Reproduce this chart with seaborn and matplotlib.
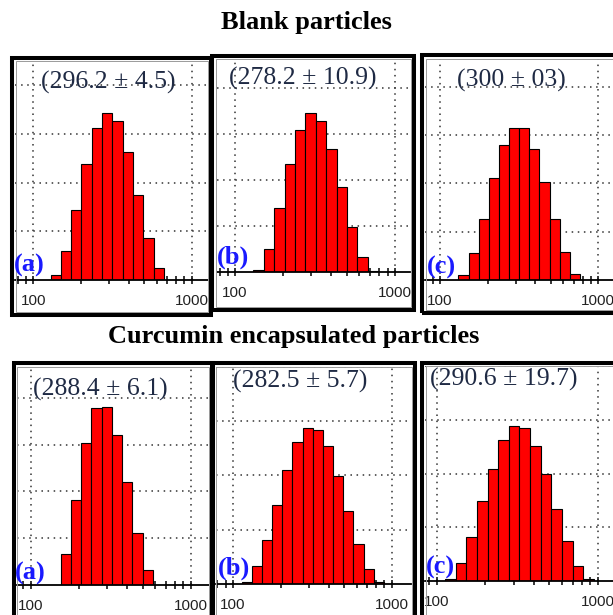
import numpy as np
import pandas as pd
import matplotlib
matplotlib.use("Agg")
import matplotlib.pyplot as plt
from matplotlib.patches import Rectangle
from matplotlib.ticker import LogLocator, NullFormatter, FixedLocator, FixedFormatter
import seaborn as sns

sns.set_style("white")
plt.rcParams["font.family"] = ["Liberation Serif", "DejaVu Serif"]

# ---------------- data ----------------
row_titles = ["Blank particles", "Curcumin encapsulated particles"]
panel_letters = ["(a)", "(b)", "(c)", "(a)", "(b)", "(c)"]
panel_stats = ["(296.2 ± 4.5)", "(278.2 ± 10.9)", "(300 ± 03)",
               "(288.4 ± 6.1)", "(282.5 ± 5.7)", "(290.6 ± 19.7)"]

# percentage per size bin (log-spaced bins)
blank_a = [0.55, 2.97, 7.17, 11.9, 15.6, 17.2, 16.3, 13.2, 8.7, 4.3, 1.24]
blank_b = [0.2, 2.5, 7.0, 11.7, 15.5, 17.3, 16.4, 13.4, 9.2, 4.9, 1.6, 0.1]
blank_c = [0.5, 2.8, 6.3, 10.6, 14.0, 15.8, 15.7, 13.6, 10.2, 6.3, 2.9, 0.6]
curc_a = [3.3, 9.1, 15.2, 18.9, 19.0, 16.0, 11.0, 5.6, 1.6]
curc_b = [0.2, 1.6, 4.0, 7.3, 10.5, 13.1, 14.4, 14.2, 12.7, 9.9, 6.7, 3.7, 1.4, 0.2]
curc_c = [0.2, 1.7, 4.1, 7.4, 10.4, 13.1, 14.4, 14.2, 12.6, 10.0, 6.7, 3.7, 1.4, 0.2]
series = [blank_a, blank_b, blank_c, curc_a, curc_b, curc_c]

# log10(size, nm) of the first bin edge and log10 bin width
bin_start = [2.109, 2.115, 2.116, 2.1875, 2.055, 2.052]
bin_step = [0.065, 0.065, 0.064, 0.064, 0.064, 0.066]

x_ticks = [100, 1000]
x_ticklabels = ["100", "1000"]
grid_levels = [5, 10, 15, 20]

# ---------------- layout (pixels) ----------------
W, H = 613, 615
# inner plot boxes: left, right, top, axis-line y
inner = [(15, 208, 62, 280), (217, 410, 60, 271.7), (425, 613, 59, 280),
         (17, 209, 367, 585), (216, 411, 367, 583.7), (425, 613, 366, 581)]
xlims = [(1.884, 3.103), (1.887, 3.094), (1.905, 3.093),
         (1.914, 3.114), (1.894, 3.121), (1.927, 3.095)]
ytops = [22.4, 23.1, 22.9, 23.3, 17.4, 17.0]
# frames: x0, x1, y0, y1 (border centre line)
frames = [(12, 211.3, 57.5, 315), (212, 414, 56, 310.3), (422, 618, 55.3, 313.3),
          (13.8, 212.5, 363, 618), (212, 415, 363, 618), (422, 618, 362.7, 618)]
stat_pos = [(108, 82), (303, 78.5), (511, 80.5), (100.8, 389), (300.5, 381), (503.5, 379.5)]
letter_pos = [(14, 277), (217, 269), (427, 279), (15, 585), (218, 580), (426, 579)]
title_pos = [(306.7, 22), (294, 336)]

fig = plt.figure(figsize=(W / 100, H / 100), dpi=100)
fig.patch.set_facecolor("white")


def fx(x):
    return x / W


def fy(y):
    return 1 - y / H


for i in range(6):
    l, r, t, b = inner[i]
    ax = fig.add_axes([fx(l), fy(b), (r - l) / W, (b - t) / H])
    heights = np.array(series[i], dtype=float)
    n = len(heights)
    edges = bin_start[i] + bin_step[i] * np.arange(n + 1)
    centers = 10 ** ((edges[:-1] + edges[1:]) / 2)
    df = pd.DataFrame({"size": centers, "pct": heights})
    sns.histplot(data=df, x="size", weights="pct", bins=[float(e) for e in edges],
                 log_scale=True, ax=ax,
                 color="#ff0000", edgecolor="black", linewidth=0.8, alpha=1,
                 stat="count", zorder=2)
    ax.set_xlim(10 ** xlims[i][0], 10 ** xlims[i][1])
    ax.set_ylim(0, ytops[i])
    ax.set_xlabel("")
    ax.set_ylabel("")
    ax.set_facecolor("white")
    for s in ["left", "right", "top"]:
        ax.spines[s].set_visible(False)
    ax.spines["bottom"].set_color("black")
    ax.spines["bottom"].set_linewidth(1.3)
    ax.spines["bottom"].set_zorder(4)
    ax.xaxis.set_major_locator(FixedLocator(x_ticks))
    ax.xaxis.set_major_formatter(FixedFormatter(x_ticklabels))
    ax.xaxis.set_minor_locator(LogLocator(base=10, subs=np.arange(2, 10)))
    ax.xaxis.set_minor_formatter(NullFormatter())
    ax.set_yticks(grid_levels)
    ax.tick_params(axis="y", which="both", length=0, labelleft=False, left=False)
    ax.tick_params(axis="x", which="both", bottom=True, top=False, direction="inout",
                   length=5.5, width=1.1, color="black")
    ax.tick_params(axis="x", which="major", pad=7.3, labelsize=11, labelcolor="#222222")
    for lab in ax.get_xticklabels():
        lab.set_fontfamily(["Liberation Sans", "DejaVu Sans"])
    ax.grid(True, which="major", axis="both", color="#333333",
            linestyle=(0, (1, 3)), linewidth=1.1)
    ax.set_axisbelow(True)

    x0, x1, y0, y1 = frames[i]
    fig.add_artist(Rectangle((fx(x0), fy(y1)), (x1 - x0) / W, (y1 - y0) / H,
                             transform=fig.transFigure, fill=False,
                             edgecolor="black", linewidth=2.9, zorder=5))
    g = 3.5
    fig.add_artist(Rectangle((fx(x0 + g), fy(y1 - g)), (x1 - x0 - 2 * g) / W,
                             (y1 - y0 - 2 * g) / H,
                             transform=fig.transFigure, fill=False,
                             edgecolor="#9a9a9a", linewidth=0.7, zorder=5))
    sx, sy = stat_pos[i]
    fig.text(fx(sx), fy(sy), panel_stats[i], ha="center", va="center",
             fontsize=18.5, color="#1f2a44", zorder=6)
    lx, ly = letter_pos[i]
    fig.text(fx(lx), fy(ly), panel_letters[i], ha="left", va="bottom",
             fontsize=19, fontweight="bold", color="#1a1aff", zorder=6)

for k in range(2):
    tx, ty = title_pos[k]
    fig.text(fx(tx), fy(ty), row_titles[k], ha="center", va="center",
             fontsize=19, fontweight="bold", color="black")

fig.savefig("out.png", dpi=100, facecolor="white")
